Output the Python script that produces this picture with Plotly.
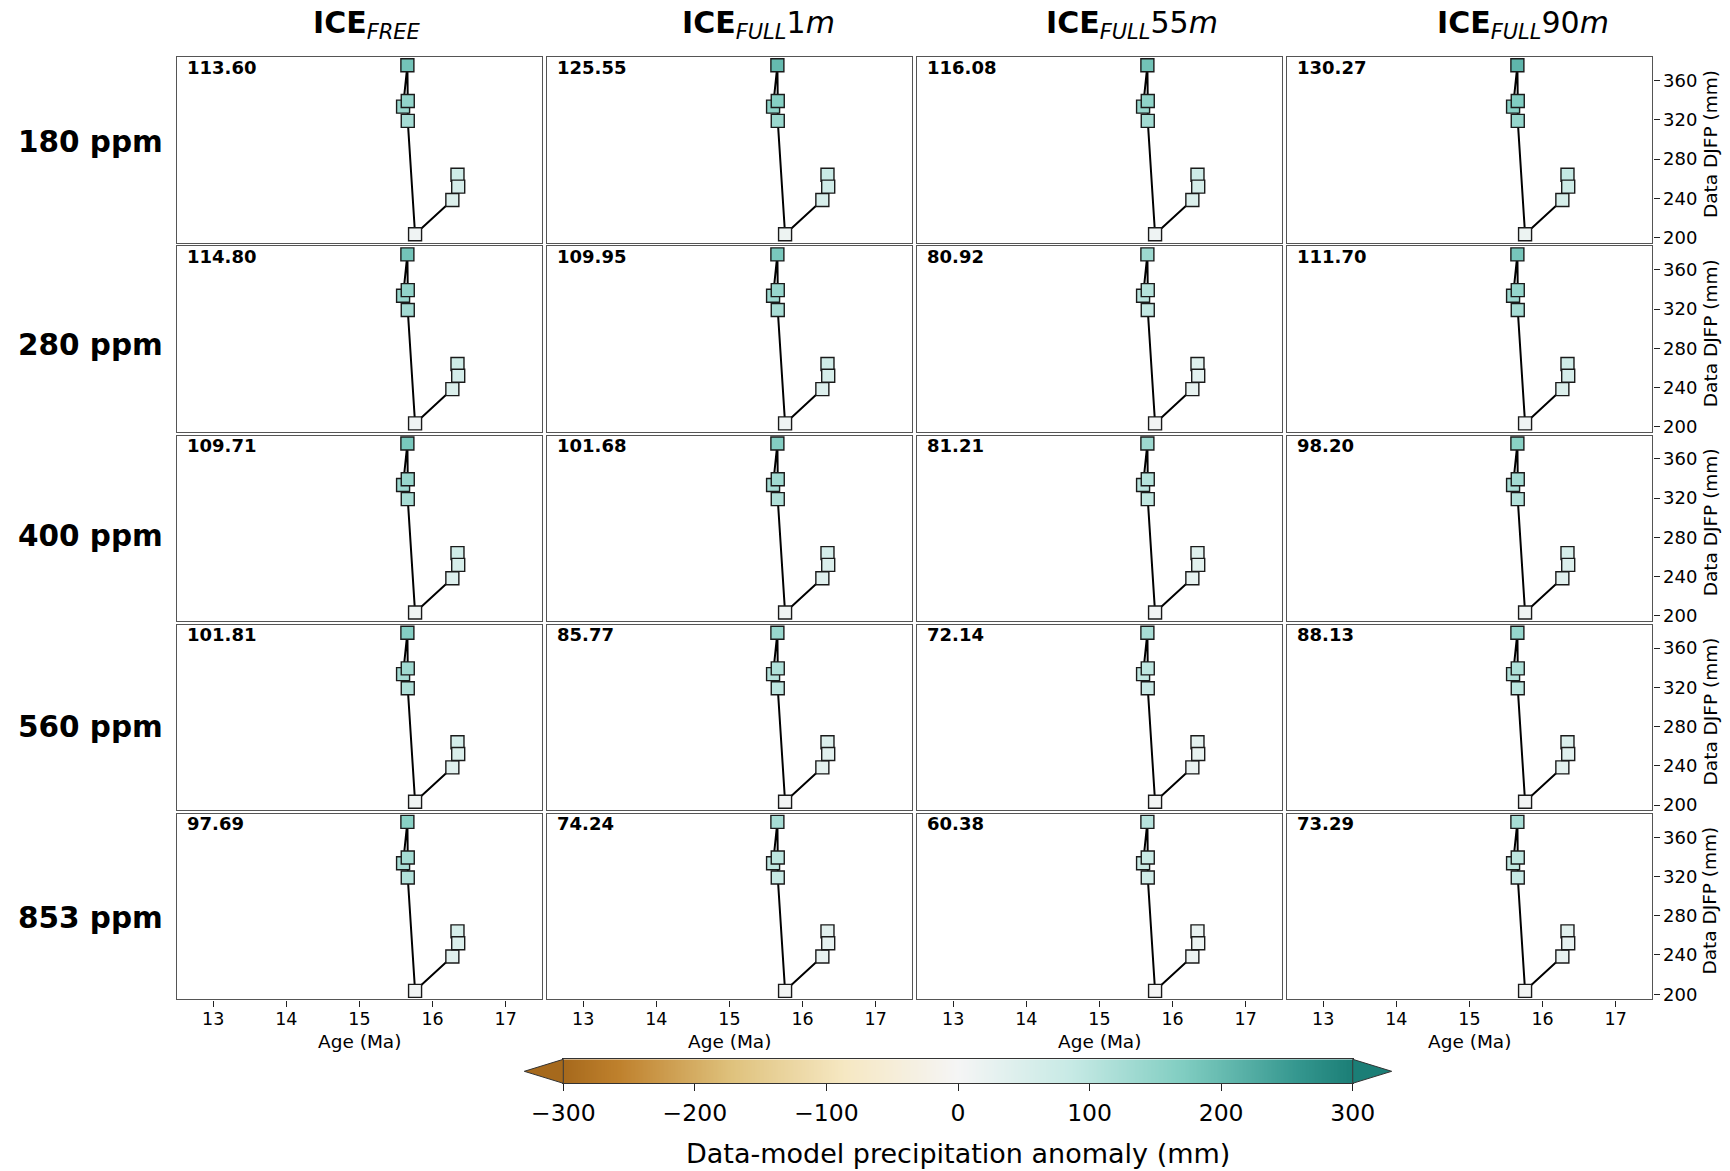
import plotly.graph_objects as go
import numpy as np

# ---------------- data ----------------
ages = [15.596, 15.655, 15.66, 15.66, 15.76, 16.27, 16.34, 16.35]          # Age (Ma)
djfp = [333.5, 375.7, 339.3, 319.0, 203.4, 238.4, 264.0, 252.0]            # Data DJFP (mm)
row_labels = ["180 ppm", "280 ppm", "400 ppm", "560 ppm", "853 ppm"]
col_titles = [
    "<b>ICE</b><sub><i>FREE</i></sub>",
    "<b>ICE</b><sub><i>FULL</i></sub>1<i>m</i>",
    "<b>ICE</b><sub><i>FULL</i></sub>55<i>m</i>",
    "<b>ICE</b><sub><i>FULL</i></sub>90<i>m</i>",
]
rmse = [
    [113.60, 125.55, 116.08, 130.27],
    [114.80, 109.95, 80.92, 111.70],
    [109.71, 101.68, 81.21, 98.20],
    [101.81, 85.77, 72.14, 88.13],
    [97.69, 74.24, 60.38, 73.29],
]
# data-model anomaly (mm) of each point, per panel (row-major)
anomaly = [
    [[140, 185, 148, 127, 12, 47, 72, 60], [154, 202, 164, 140, 15, 55, 83, 70],
     [143, 188, 152, 130, 13, 49, 75, 62], [160, 209, 170, 146, 16, 58, 88, 74]],
    [[142, 186, 150, 129, 12, 48, 73, 61], [136, 179, 144, 123, 11, 45, 69, 57],
     [102, 136, 106, 91, 5, 27, 42, 34], [138, 182, 146, 125, 12, 46, 71, 59]],
    [[136, 179, 143, 123, 11, 45, 69, 57], [126, 167, 133, 114, 9, 40, 61, 51],
     [102, 136, 107, 92, 5, 27, 42, 35], [122, 161, 129, 110, 9, 38, 58, 48]],
    [[127, 167, 133, 114, 9, 40, 61, 51], [108, 143, 113, 97, 6, 30, 47, 38],
     [92, 123, 95, 82, 3, 21, 34, 27], [111, 146, 116, 99, 6, 31, 49, 40]],
    [[122, 161, 128, 110, 8, 37, 58, 48], [94, 126, 98, 84, 3, 23, 36, 29],
     [78, 105, 80, 69, 0, 14, 23, 18], [93, 124, 97, 83, 3, 22, 35, 28]],
]
x_ticks = [13, 14, 15, 16, 17]
y_ticks = [200, 240, 280, 320, 360]
cbar_ticks = [-300, -200, -100, 0, 100, 200, 300]

# ---------------- style ----------------
W, H = 1730, 1171
FONT = "DejaVu Sans"
brbg = ['#543005', '#8c510a', '#bf812d', '#dfc27d', '#f6e8c3', '#f5f5f5',
        '#c7eae5', '#80cdc1', '#35978f', '#01665e', '#003c30']


def hex2rgb(h):
    h = h.lstrip('#')
    return np.array([int(h[i:i + 2], 16) for i in (0, 2, 4)], dtype=float)


def brbg_at(t):
    p = t * 10
    i = min(int(np.floor(p)), 9)
    f = p - i
    c = hex2rgb(brbg[i]) * (1 - f) + hex2rgb(brbg[i + 1]) * f
    return 'rgb(%d,%d,%d)' % tuple(np.round(c))


lo, hi = 0.15, 0.85
knots = [lo] + [k / 10 for k in range(2, 9)] + [hi]
cscale = [[(t - lo) / (hi - lo), brbg_at(t)] for t in knots]
under_col = brbg_at(lo)
over_col = brbg_at(hi)

X_RANGE = [12.5, 17.5]
Y_RANGE = [194.8, 383.8]

left0, colw, colpitch = 176.7, 365.6, 370.0
top0, rowh, rowpitch = 57.3, 185.4, 189.15
title_x = [367, 758, 1132, 1523]
row_label_y = [142, 345, 536, 727, 918]


def px(x):
    return x / W


def py(y):
    return 1 - y / H


fig = go.Figure()
annotations = []
shapes = []

for r in range(5):
    for c in range(4):
        k = r * 4 + c + 1
        xa = 'x' if k == 1 else 'x%d' % k
        ya = 'y' if k == 1 else 'y%d' % k
        fig.add_trace(go.Scatter(
            x=ages, y=djfp, mode='lines+markers', xaxis=xa, yaxis=ya,
            line=dict(color='black', width=2),
            marker=dict(symbol='square', size=13, color=anomaly[r][c], colorscale=cscale,
                        cmin=-300, cmax=300, line=dict(color='#1a1a1a', width=1.4)),
            showlegend=False, hoverinfo='skip'))
        L = left0 + c * colpitch
        T = top0 + r * rowpitch
        xdom = [px(L), px(L + colw)]
        ydom = [py(T + rowh), py(T)]
        bottom = (r == 4)
        right = (c == 3)
        fig.layout['xaxis' if k == 1 else 'xaxis%d' % k] = dict(
            domain=xdom, range=X_RANGE, anchor=ya, showgrid=False, zeroline=False,
            showline=True, mirror=True, linecolor='#555', linewidth=1.4, automargin=False,
            ticks='outside' if bottom else '', ticklen=6, tickwidth=1.2, tickcolor='#222',
            tickvals=x_ticks, showticklabels=bottom, ticklabelstandoff=-3,
            tickfont=dict(family=FONT, size=17.5, color='black'))
        fig.layout['yaxis' if k == 1 else 'yaxis%d' % k] = dict(
            domain=ydom, range=Y_RANGE, anchor=xa, showgrid=False, zeroline=False,
            showline=True, mirror=True, linecolor='#555', linewidth=1.4, automargin=False,
            side='right', ticks='outside' if right else '', ticklen=6, tickwidth=1.2,
            tickcolor='#222', tickvals=y_ticks, showticklabels=right,
            tickfont=dict(family=FONT, size=18, color='black'))
        annotations.append(dict(
            x=px(L + 8), y=py(T + 10), xref='paper', yref='paper', xanchor='left',
            yanchor='middle', showarrow=False, text='<b>%.2f</b>' % rmse[r][c],
            font=dict(family=FONT, size=18, color='black')))
        if right:
            annotations.append(dict(
                x=px(1710), y=py(T + rowh / 2 - 6), xref='paper', yref='paper',
                xanchor='center', yanchor='middle', showarrow=False, textangle=-90,
                text='Data DJFP (mm)', font=dict(family=FONT, size=18.5, color='black')))
        if bottom:
            annotations.append(dict(
                x=px(L + colw / 2), y=py(1041), xref='paper', yref='paper',
                xanchor='center', yanchor='middle', showarrow=False,
                text='Age (Ma)', font=dict(family=FONT, size=18.5, color='black')))
        if r == 0:
            annotations.append(dict(
                x=px(title_x[c]), y=py(24), xref='paper', yref='paper',
                xanchor='center', yanchor='middle', showarrow=False,
                text=col_titles[c], font=dict(family=FONT, size=30, color='black')))

for r in range(5):
    annotations.append(dict(
        x=px(16), y=py(row_label_y[r]), xref='paper', yref='paper', xanchor='left',
        yanchor='middle', showarrow=False, text='<b>%s</b>' % row_labels[r],
        font=dict(family=FONT, size=29.5, color='black')))

# ---------------- colour bar ----------------
cb_l, cb_r, cb_t, cb_b, tri = 563.3, 1352.7, 1059.3, 1083.3, 39.0
grad = np.linspace(-300, 300, 601)
fig.add_trace(go.Heatmap(x=grad, y=[0], z=[grad], colorscale=cscale, zmin=-300, zmax=300,
                         showscale=False, xaxis='x21', yaxis='y21', hoverinfo='skip'))
fig.layout['xaxis21'] = dict(
    domain=[px(cb_l), px(cb_r)], range=[-300, 300], anchor='y21', showgrid=False,
    zeroline=False, showline=True, mirror=True, linecolor='#333', linewidth=1, automargin=False,
    ticks='outside', ticklen=7, tickwidth=1.2, tickcolor='#222', tickvals=cbar_ticks,
    ticklabelstandoff=1, tickfont=dict(family=FONT, size=23.5, color='black'))
fig.layout['yaxis21'] = dict(
    domain=[py(cb_b), py(cb_t)], range=[-0.5, 0.5], anchor='x21', showgrid=False,
    zeroline=False, showline=True, mirror=True, linecolor='#333', linewidth=1, automargin=False,
    showticklabels=False, ticks='')
mid = (cb_t + cb_b) / 2
shapes.append(dict(type='path', xref='paper', yref='paper',
                   path='M %f %f L %f %f L %f %f Z' % (px(cb_l), py(cb_t), px(cb_l - tri), py(mid), px(cb_l), py(cb_b)),
                   fillcolor=under_col, line=dict(color='#333', width=1)))
shapes.append(dict(type='path', xref='paper', yref='paper',
                   path='M %f %f L %f %f L %f %f Z' % (px(cb_r), py(cb_t), px(cb_r + tri), py(mid), px(cb_r), py(cb_b)),
                   fillcolor=over_col, line=dict(color='#333', width=1)))
annotations.append(dict(
    x=px((cb_l + cb_r) / 2), y=py(1153), xref='paper', yref='paper', xanchor='center',
    yanchor='middle', showarrow=False, text='Data-model precipitation anomaly (mm)',
    font=dict(family=FONT, size=27, color='black')))

fig.update_layout(width=W, height=H, margin=dict(l=0, r=0, t=0, b=0, pad=0, autoexpand=False),
                  paper_bgcolor='white', plot_bgcolor='white', showlegend=False,
                  annotations=annotations, shapes=shapes,
                  font=dict(family=FONT, color='black'))
fig.write_html("out.html")
